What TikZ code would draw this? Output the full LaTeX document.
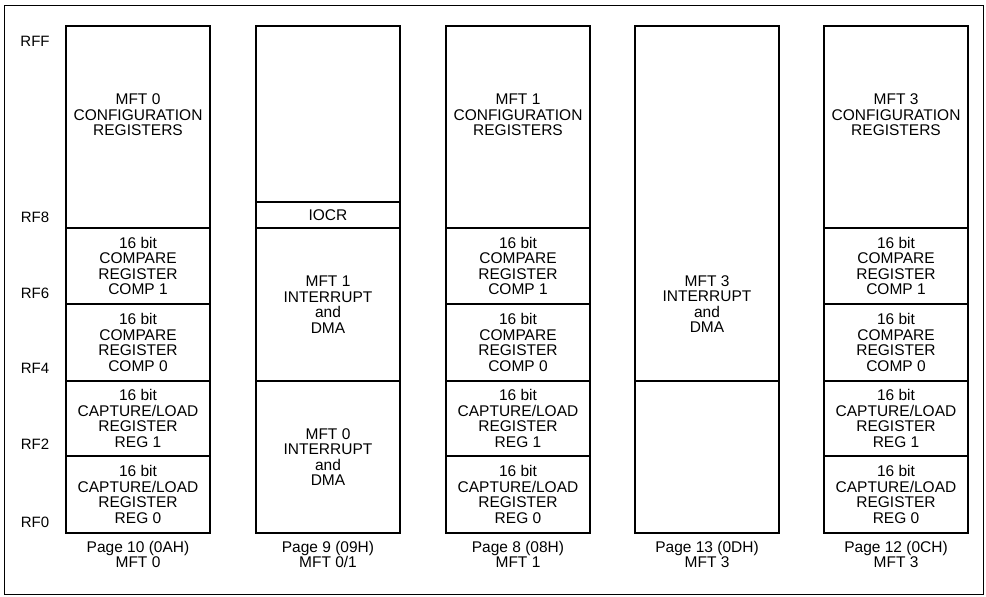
\documentclass[tikz,border=0pt]{standalone}
\usepackage{fontspec}
\setmainfont{Liberation Sans}
\begin{document}
\begin{tikzpicture}[x=1pt,y=-1pt,
  cell/.style={draw,line width=1.2pt,minimum width=144pt,inner sep=0pt,outer sep=0pt,anchor=north west},
  txt/.style={align=center,font=\fontsize{15.5}{15.5}\selectfont,inner sep=0pt},
  rf/.style={font=\fontsize{15}{15.5}\selectfont,inner sep=0pt}]
\useasboundingbox (0,0) rectangle (986,597);
\node[draw,line width=1.2pt,minimum width=979pt,minimum height=589pt,anchor=north west,inner sep=0pt] (frame) at (4,5) {};
% row labels
\node[rf] (lff) at (35,41) {RFF};
\node[rf] (lf8) at (35,217) {RF8};
\node[rf] (lf6) at (35,293) {RF6};
\node[rf] (lf4) at (35,368) {RF4};
\node[rf] (lf2) at (35,444) {RF2};
\node[rf] (lf0) at (35,522) {RF0};
\foreach \cx/\nm/\pg/\mf in {66/a/Page 10 (0AH)/MFT 0, 446/c/Page 8 (08H)/MFT 1, 824/e/Page 12 (0CH)/MFT 3}{
  \node[cell,minimum height=202pt] (\nm cfg) at (\cx,26) {};
  \node[txt] (\nm cfgt) at ([yshift=12pt]\nm cfg.center) {\mf\\CONFIGURATION\\REGISTERS};
  \node[cell,minimum height=76pt] (\nm c1) at (\cx,228) {};
  \node[txt] (\nm c1t) at (\nm c1.center) {16 bit\\COMPARE\\REGISTER\\COMP 1};
  \node[cell,minimum height=77pt] (\nm c0) at (\cx,304) {};
  \node[txt] (\nm c0t) at (\nm c0.center) {16 bit\\COMPARE\\REGISTER\\COMP 0};
  \node[cell,minimum height=75pt] (\nm r1) at (\cx,381) {};
  \node[txt] (\nm r1t) at (\nm r1.center) {16 bit\\CAPTURE/LOAD\\REGISTER\\REG 1};
  \node[cell,minimum height=77pt] (\nm r0) at (\cx,456) {};
  \node[txt] (\nm r0t) at (\nm r0.center) {16 bit\\CAPTURE/LOAD\\REGISTER\\REG 0};
  \node[txt,anchor=north] (\nm pg) at ([yshift=-8pt]\nm r0.south) {\pg\\\mf};
}
% column 2
\node[cell,minimum height=176pt] (btop) at (256,26) {};
\node[cell,minimum height=26pt] (biocr) at (256,202) {};
\node[txt] (biocrt) at (biocr.center) {IOCR};
\node[cell,minimum height=153pt] (bi1) at (256,228) {};
\node[txt] (bi1t) at (bi1.center) {MFT 1\\INTERRUPT\\and\\DMA};
\node[cell,minimum height=152pt] (bi0) at (256,381) {};
\node[txt] (bi0t) at (bi0.center) {MFT 0\\INTERRUPT\\and\\DMA};
\node[txt,anchor=north] (bpg) at ([yshift=-8pt]bi0.south) {Page 9 (09H)\\MFT 0/1};
% column 4
\node[cell,minimum height=355pt] (dtop) at (635,26) {};
\node[txt] (dtopt) at (707,304) {MFT 3\\INTERRUPT\\and\\DMA};
\node[cell,minimum height=152pt] (dbot) at (635,381) {};
\node[txt,anchor=north] (dpg) at ([yshift=-8pt]dbot.south) {Page 13 (0DH)\\MFT 3};
\end{tikzpicture}
\end{document}
